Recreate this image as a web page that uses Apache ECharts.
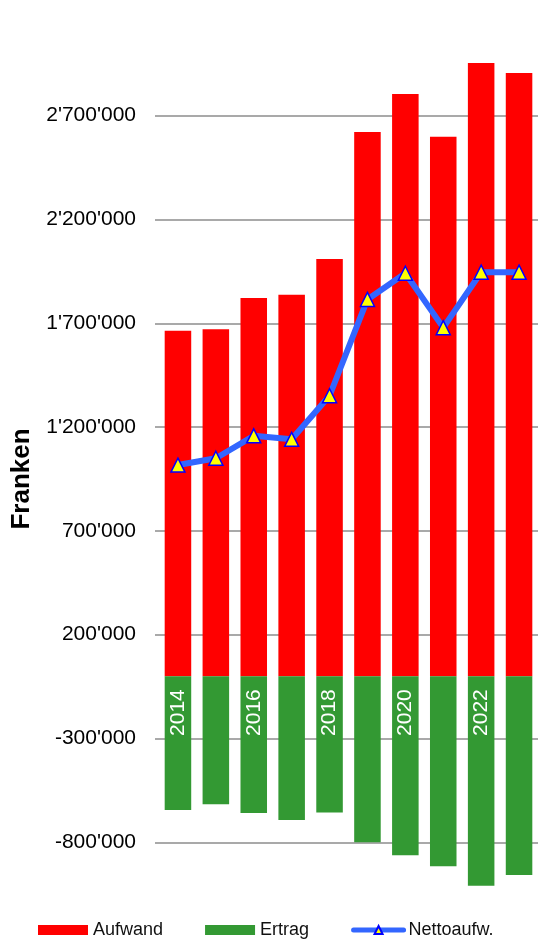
<!DOCTYPE html>
<html>
<head>
<meta charset="utf-8">
<script src="https://cdn.jsdelivr.net/npm/echarts@6/dist/echarts.min.js"></script>
<style>
html,body{margin:0;padding:0;background:#fff;}
#chart{width:538px;height:940px;}
</style>
</head>
<body>
<div id="chart"></div>
<script>
var years = ['2014','2015','2016','2017','2018','2019','2020','2021','2022','2023'];
var aufwand = [1664000, 1671000, 1822000, 1838000, 2010000, 2621000, 2804000, 2599000, 2954000, 2906000];
var ertrag = [-644000, -617000, -659000, -693000, -656000, -800000, -863000, -916000, -1009000, -958000];
var netto = [1017000, 1050000, 1158000, 1141000, 1351000, 1815000, 1941000, 1679000, 1946000, 1946000];
var tickMin = -800000, tickMax = 2700000, tickStep = 500000;

function fmt(v){ return String(v).replace(/\B(?=(\d{3})+(?!\d))/g, "'"); }

var FONT = 'Liberation Sans, Arial, sans-serif';
var chart = echarts.init(document.getElementById('chart'), null, {renderer:'canvas'});
chart.setOption({
  animation:false,
  textStyle:{fontFamily:FONT},
  grid:[
    {left:159, right:0, top:32.64, bottom:35.44, containLabel:false, outerBoundsMode:'none'},
    {left:155, right:0, top:115.68, bottom:97.72, containLabel:false, outerBoundsMode:'none'}
  ],
  xAxis:[
    {type:'category', gridIndex:0, data:years, z:10, position:'bottom', offset:-228.36,
     axisLine:{show:false, onZero:false}, axisTick:{show:false},
     axisLabel:{rotate:90, color:'#ffffff', fontSize:21, interval:1, margin:13, fontFamily:FONT, hideOverlap:false}},
    {type:'value', gridIndex:1, show:false, min:0, max:1}
  ],
  yAxis:[
    {type:'value', gridIndex:0, min:-1100000, max:3100000, show:false, splitLine:{show:false}},
    {type:'value', gridIndex:1, min:tickMin, max:tickMax, interval:tickStep,
     name:'Franken', nameLocation:'middle', nameRotate:90, nameGap:117,
     nameTextStyle:{fontSize:26, fontWeight:'bold', color:'#000', fontFamily:FONT},
     axisLine:{show:false}, axisTick:{show:false},
     axisLabel:{formatter:fmt, fontSize:21, color:'#000', margin:19, fontFamily:FONT},
     splitLine:{show:true, lineStyle:{color:'#8c8c8c', width:1.5}}}
  ],
  legend:{
    left:38, top:921, padding:0, itemWidth:50, itemHeight:10, itemGap:42,
    textStyle:{fontSize:18, color:'#111', fontFamily:FONT},
    data:[{name:'Aufwand', icon:'rect'},{name:'Ertrag', icon:'rect'},
          {name:'Nettoaufw.', lineStyle:{width:5, cap:'round'}}]
  },
  series:[
    {name:'Aufwand', type:'bar', xAxisIndex:0, yAxisIndex:0, data:aufwand,
     barWidth:'70%', barGap:'-100%', itemStyle:{color:'#ff0000'}},
    {name:'Ertrag', type:'bar', xAxisIndex:0, yAxisIndex:0, data:ertrag,
     barWidth:'70%', barGap:'-100%', itemStyle:{color:'#339933'}},
    {name:'Nettoaufw.', type:'line', xAxisIndex:0, yAxisIndex:0, data:netto,
     symbol:'triangle', symbolSize:14, z:5,
     lineStyle:{color:'#3366ff', width:6},
     itemStyle:{color:'#ffff00', borderColor:'#0000ff', borderWidth:1.5}}
  ]
});
</script>
</body>
</html>
